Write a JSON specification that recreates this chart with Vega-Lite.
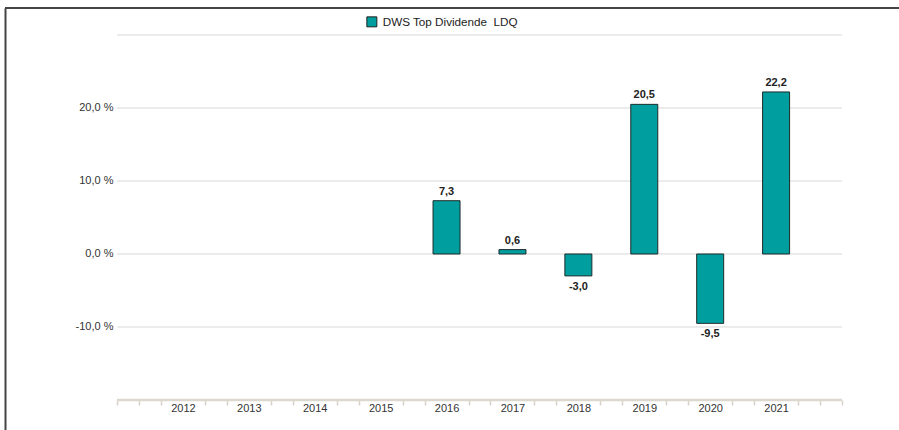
{
  "$schema": "https://vega.github.io/schema/vega-lite/v6.json",
  "width": 894,
  "height": 422,
  "autosize": {"type": "none"},
  "padding": {"left": 5, "top": 8, "right": 0, "bottom": 0},
  "background": "#ffffff",
  "config": {
    "font": "Liberation Sans",
    "view": {"stroke": null},
    "locale": {"number": {"decimal": ",", "thousands": ".", "grouping": [3], "currency": ["", " €"], "minus": "-"}}
  },
  "datasets": {
    "bars": [
      {"year": 2016, "value": 7.3, "series": "DWS Top Dividende\u00a0 LDQ"},
      {"year": 2017, "value": 0.6, "series": "DWS Top Dividende\u00a0 LDQ"},
      {"year": 2018, "value": -3.0, "series": "DWS Top Dividende\u00a0 LDQ"},
      {"year": 2019, "value": 20.5, "series": "DWS Top Dividende\u00a0 LDQ"},
      {"year": 2020, "value": -9.5, "series": "DWS Top Dividende\u00a0 LDQ"},
      {"year": 2021, "value": 22.2, "series": "DWS Top Dividende\u00a0 LDQ"}
    ],
    "grid": [{"g": 30}, {"g": 20}, {"g": 10}, {"g": 0}, {"g": -10}]
  },
  "layer": [
    {
      "data": {"name": "grid"},
      "mark": {"type": "rule", "color": "#d9d9d9", "strokeWidth": 1},
      "encoding": {
        "y": {"field": "g", "type": "quantitative", "title": null},
        "x": {"datum": 2011, "type": "quantitative", "title": null},
        "x2": {"datum": 2022}
      }
    },
    {
      "data": {"values": [{"a": 1}]},
      "mark": {"type": "rule", "color": "#ddd8cd", "strokeWidth": 2.5},
      "encoding": {
        "y": {"datum": -20, "type": "quantitative", "title": null},
        "x": {"datum": 2011, "type": "quantitative", "title": null},
        "x2": {"datum": 2022}
      }
    },
    {
      "data": {"values": [{"a": 1}]},
      "mark": {"type": "rule", "color": "#454545", "strokeWidth": 2},
      "encoding": {
        "y": {"datum": 33.6986, "type": "quantitative", "title": null},
        "x": {"datum": 2009.30069, "type": "quantitative", "title": null},
        "x2": {"datum": 2022.86483}
      }
    },
    {
      "data": {"name": "bars"},
      "mark": {"type": "bar", "width": 27, "stroke": "#1e2b2b", "strokeWidth": 1},
      "encoding": {
        "x": {
          "field": "year", "type": "quantitative", "title": null,
          "scale": {"domain": [2009.30069, 2022.86483], "nice": false, "zero": false, "padding": 0},
          "axis": {
            "orient": "bottom",
            "offset": -30,
            "domain": false,
            "grid": false,
            "tickCount": 100,
            "values": [2011,2011.3333,2011.6667,2012,2012.3333,2012.6667,2013,2013.3333,2013.6667,2014,2014.3333,2014.6667,2015,2015.3333,2015.6667,2016,2016.3333,2016.6667,2017,2017.3333,2017.6667,2018,2018.3333,2018.6667,2019,2019.3333,2019.6667,2020,2020.3333,2020.6667,2021,2021.3333,2021.6667,2022],
            "tickSize": 5,
            "tickWidth": 1.5,
            "tickColor": {"condition": {"test": "abs(datum.value - round(datum.value)) < 0.01 && datum.value > 2011.5 && datum.value < 2021.5", "value": "transparent"}, "value": "#d8d3c8"},
            "labelExpr": "abs(datum.value - round(datum.value)) < 0.01 && datum.value > 2011.5 && datum.value < 2021.5 ? toString(round(datum.value)) : ''",
            "labelOverlap": false,
            "labelFlush": false,
            "labelPadding": -3,
            "labelFontSize": 11,
            "labelColor": "#333333"
          }
        },
        "y": {
          "field": "value", "type": "quantitative", "title": null,
          "scale": {"domain": [-24.1096, 33.6986], "nice": false, "zero": false, "padding": 0},
          "axis": {
            "orient": "left",
            "domain": true,
            "domainColor": "#454545",
            "domainWidth": 2,
            "ticks": false,
            "tickSize": 0,
            "grid": false,
            "tickCount": 100,
            "values": [-10, 0, 10, 20],
            "format": ".1f",
            "labelExpr": "datum.label + ' %'",
            "labelPadding": -108,
            "labelAlign": "right",
            "labelFontSize": 11,
            "labelColor": "#333333"
          }
        },
        "y2": {"datum": 0},
        "color": {
          "field": "series", "type": "nominal",
          "scale": {"range": ["#009e9e"]},
          "legend": {
            "title": null,
            "orient": "none",
            "legendX": 361,
            "legendY": 8,
            "padding": 0,
            "symbolType": "square",
            "symbolSize": 100,
            "symbolStrokeColor": "#222222",
            "symbolStrokeWidth": 1,
            "symbolOpacity": 1,
            "labelFontSize": 11.7,
            "labelColor": "#222222",
            "labelOffset": 5
          }
        }
      }
    },
    {
      "data": {"name": "bars"},
      "transform": [{"filter": "datum.value >= 0"}],
      "mark": {"type": "text", "baseline": "alphabetic", "dy": -6, "fontWeight": "bold", "fontSize": 11, "color": "#222222"},
      "encoding": {
        "x": {"field": "year", "type": "quantitative", "title": null},
        "y": {"field": "value", "type": "quantitative", "title": null},
        "text": {"field": "value", "type": "quantitative", "format": ".1f"}
      }
    },
    {
      "data": {"name": "bars"},
      "transform": [{"filter": "datum.value < 0"}],
      "mark": {"type": "text", "baseline": "top", "dy": 5, "fontWeight": "bold", "fontSize": 11, "color": "#222222"},
      "encoding": {
        "x": {"field": "year", "type": "quantitative", "title": null},
        "y": {"field": "value", "type": "quantitative", "title": null},
        "text": {"field": "value", "type": "quantitative", "format": ".1f"}
      }
    }
  ]
}
